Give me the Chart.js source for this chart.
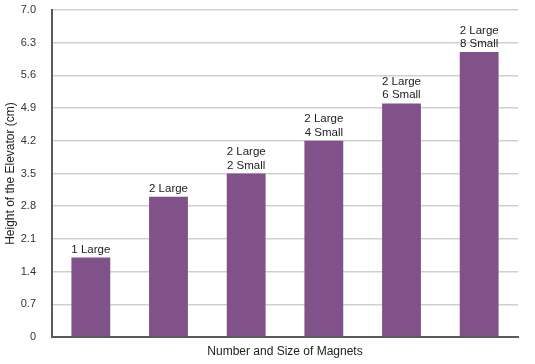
<!DOCTYPE html>
<html>
<head>
<meta charset="utf-8">
<script src="https://cdn.jsdelivr.net/npm/chart.js@4/dist/chart.umd.min.js"></script>
<style>
  html, body { margin: 0; padding: 0; background: #fff; }
  #wrap { width: 535px; height: 364px; }
</style>
</head>
<body>
<div id="wrap"><canvas id="magnetChart" width="535" height="364"></canvas></div>
<script>
// datos del gráfico
var categories = [
    ['1 Large'],
    ['2 Large'],
    ['2 Large', '2 Small'],
    ['2 Large', '4 Small'],
    ['2 Large', '6 Small'],
    ['2 Large', '8 Small']
];
var heights = [1.7, 3.0, 3.5, 4.2, 5.0, 6.1];
var yTicks = [0, 0.7, 1.4, 2.1, 2.8, 3.5, 4.2, 4.9, 5.6, 6.3, 7.0];

var FONT = '"Liberation Sans", Arial, Helvetica, sans-serif';

// etiquetas encima de cada barra
var barLabels = {
    id: 'barLabels',
    afterDatasetsDraw: function(chart) {
        var ctx = chart.ctx;
        var meta = chart.getDatasetMeta(0);
        ctx.save();
        ctx.font = '11.5px ' + FONT;
        ctx.fillStyle = '#222';
        ctx.textAlign = 'center';
        ctx.textBaseline = 'alphabetic';
        meta.data.forEach(function(bar, i) {
            var lines = categories[i];
            for (var j = lines.length - 1; j >= 0; j--) {
                var offset = (lines.length - 1 - j) * 13.5;
                ctx.fillText(lines[j], bar.x, bar.y - 5 - offset);
            }
        });
        ctx.restore();
    }
};

var ctx = document.getElementById('magnetChart').getContext('2d');
var chart = new Chart(ctx, {
    type: 'bar',
    data: {
        labels: categories.map(function(c) { return c.join(' '); }),
        datasets: [{
            data: heights,
            backgroundColor: 'rgb(128, 82, 137)',
            borderWidth: 0,
            categoryPercentage: 1.0,
            barPercentage: 0.5
        }]
    },
    options: {
        responsive: false,
        animation: false,
        layout: { padding: { top: 10, right: 17, left: 0, bottom: 0 } },
        plugins: {
            legend: { display: false },
            tooltip: { enabled: false }
        },
        scales: {
            x: {
                grid: { display: false },
                border: { display: true, color: '#5a5a5a', width: 2 },
                ticks: { display: false },
                title: {
                    display: true,
                    text: 'Number and Size of Magnets',
                    color: '#222',
                    font: { family: FONT, size: 12 },
                    padding: { top: 0, bottom: 5 }
                },
                afterFit: function(scale) {
                    scale.height = 27;
                    scale.paddingLeft = 0;
                    scale.paddingRight = 0;
                }
            },
            y: {
                min: 0,
                max: 7,
                afterBuildTicks: function(scale) {
                    scale.ticks = yTicks.map(function(v) { return { value: v }; });
                },
                grid: { color: '#cfcfcf', lineWidth: 1.5, drawTicks: false },
                border: { display: true, color: '#5a5a5a', width: 2 },
                ticks: {
                    padding: 16,
                    color: '#333',
                    font: { family: FONT, size: 11 },
                    callback: function(v) { return v === 0 ? '0' : v.toFixed(1); }
                },
                title: {
                    display: true,
                    text: 'Height of the Elevator (cm)',
                    color: '#222',
                    font: { family: FONT, size: 12 },
                    padding: { top: 3, bottom: 0 }
                },
                afterFit: function(scale) {
                    scale.width = 52;
                    scale.paddingTop = 0;
                    scale.paddingBottom = 0;
                }
            }
        }
    },
    plugins: [barLabels]
});
</script>
</body>
</html>
